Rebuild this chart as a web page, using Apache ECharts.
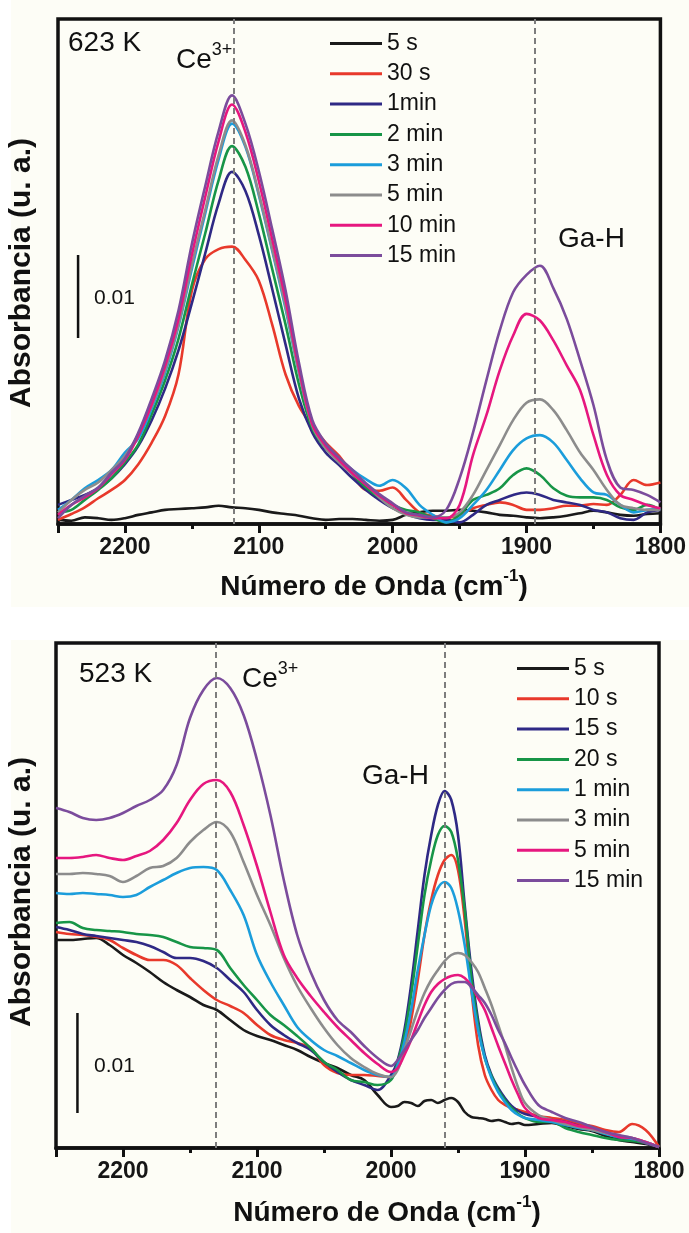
<!DOCTYPE html>
<html><head><meta charset="utf-8">
<script src="https://cdn.jsdelivr.net/npm/echarts@6/dist/echarts.min.js"></script>
<style>html,body{margin:0;padding:0;background:#fff}#c{width:689px;height:1233px}</style>
</head><body><div id="c"></div>
<script>
// ---------- data (absorbance in units of 1e-4, baseline = axis) ----------
const topX = [2250,2240,2230,2220,2210,2200,2190,2180,2170,2160,2150,2140,2130,2120,2110,2100,2090,2080,2070,2060,2050,2040,2030,2020,2010,2000,1990,1980,1970,1960,1950,1940,1930,1920,1910,1900,1890,1880,1870,1860,1850,1840,1830,1820,1810,1800];
const topNames = ['5 s','30 s','1min','2 min','3 min','5 min','10 min','15 min'];
const top5s   = [5,4,8,7,5,7,11,14,17,18,19,20,22,20,19,17,14,12,10,7,5,6,6,5,4,5,11,14,16,16,17,16,14,11,10,8,7,8,10,13,16,14,11,10,12,13];
const top30s  = [5,12,20,31,41,53,72,98,130,180,281,319,331,334,318,293,240,180,142,118,98,82,60,41,40,44,29,14,10,7,11,19,23,26,23,17,17,19,22,22,24,23,35,53,47,50];
const top1min = [23,29,35,43,55,72,94,125,163,209,266,326,386,424,401,348,283,216,151,110,86,71,55,41,29,19,12,7,5,5,2,11,23,29,35,38,35,29,26,23,17,14,7,5,14,17];
const top2min = [14,17,29,41,55,74,96,132,173,223,288,350,414,455,430,374,307,240,168,115,91,77,60,44,32,23,17,14,7,2,11,29,35,43,59,67,59,43,34,32,32,29,20,17,23,17];
const top3min = [17,29,43,53,65,86,103,139,182,238,307,374,439,482,454,396,329,259,182,120,96,79,65,54,46,53,43,23,11,2,7,23,41,65,89,103,107,98,77,55,38,35,23,14,17,19];
const top5min = [14,29,41,50,65,82,108,142,185,240,312,378,444,486,456,398,331,262,182,118,91,74,60,48,32,19,11,8,8,8,14,35,65,95,125,146,150,137,113,86,65,41,23,19,17,17];
const top10min= [11,23,32,43,60,77,106,144,190,247,324,394,461,505,472,413,343,270,187,120,94,77,61,47,34,23,13,10,7,7,23,83,131,185,227,253,245,221,191,161,107,59,35,29,23,19];
const top15min= [7,23,34,44,62,79,110,151,197,257,337,407,473,516,482,425,355,281,194,125,97,80,65,49,36,25,14,11,8,17,55,110,173,233,279,300,311,284,247,197,143,77,44,41,35,26];

const botX = [2250,2240,2230,2220,2210,2200,2190,2180,2170,2160,2150,2140,2130,2120,2110,2100,2090,2080,2070,2060,2050,2040,2030,2020,2010,2000,1995,1990,1985,1980,1975,1970,1965,1960,1955,1950,1945,1940,1935,1930,1925,1920,1915,1910,1905,1900,1890,1880,1870,1860,1850,1840,1830,1820,1810,1800];
const botNames = ['5 s','10 s','15 s','20 s','1 min','3 min','5 min','15 min'];
const bot5s   = [208,208,209,210,203,193,185,176,166,158,151,143,138,128,118,112,108,103,98,91,85,80,73,68,53,41,42,46,45,42,47,48,45,48,50,46,36,31,30,29,27,28,26,24,25,23,24,25,22,19,17,12,8,6,4,1];
const bot10s  = [216,214,213,211,208,200,193,188,188,183,170,158,148,142,135,123,113,108,105,100,83,75,73,73,72,71,80,98,128,168,213,248,273,288,293,278,228,158,103,73,58,48,43,40,38,36,32,30,28,24,22,18,16,24,18,1];
const bot15s  = [221,218,214,212,210,208,206,202,196,190,190,187,180,168,156,138,123,113,105,98,86,76,68,63,58,73,88,118,163,218,273,313,343,357,348,313,243,178,128,93,73,60,50,42,37,34,31,28,26,22,18,16,10,8,5,1];
const bot20s  = [225,226,220,218,217,216,214,213,211,206,201,200,198,180,163,148,133,123,112,100,86,78,68,66,63,68,86,113,153,203,253,288,313,322,316,288,238,170,123,90,72,58,48,40,34,30,26,26,20,16,13,10,8,7,5,1];
const bot1min = [255,254,255,254,253,251,253,261,268,275,280,281,278,258,233,193,166,143,121,108,98,92,85,78,73,71,83,106,138,178,213,243,260,266,260,238,203,158,118,90,70,56,46,38,33,30,28,26,23,20,18,14,11,9,6,1];
const bot3min = [274,274,275,274,272,266,272,280,282,290,306,318,326,316,286,253,223,190,162,140,120,103,90,81,74,71,78,98,118,138,155,168,178,187,193,195,193,186,176,160,143,123,103,80,60,45,33,28,24,21,18,15,12,10,6,1];
const bot5min = [290,290,291,293,290,288,292,297,308,325,348,364,368,356,323,282,236,193,170,152,136,121,108,95,84,76,80,93,108,126,143,156,164,169,172,173,170,162,150,138,120,102,85,68,53,40,30,28,26,22,20,16,11,10,6,1];
const bot15min= [340,336,330,328,330,335,342,348,358,383,430,458,470,460,433,388,333,268,213,176,148,128,116,102,90,82,88,98,108,118,130,140,150,158,164,166,166,161,153,145,133,118,105,90,76,63,43,36,30,26,21,16,13,10,5,1];

const xTicks = [1800,1900,2000,2100,2200];
const topMarkers = [2119, 1894];   // Ce3+, Ga-H
const botMarkers = [2131, 1960];
const topScaleBar = [[2235,224],[2235,324]]; // 0.01
const botScaleBar = [[2234,35],[2234,135]];  // 0.01

const colors = ['#1a1a1a','#e8392b','#2f2985','#179547','#1b9ddb','#8c8c8c','#e6177f','#7b4c9c'];

// ---------- chart ----------
const FONT = '"Liberation Sans", Arial, Helvetica, sans-serif';
const chart = echarts.init(document.getElementById('c'), null, {renderer:'canvas'});

function xAxisCfg(gi){
  return {
    gridIndex: gi, type:'value', inverse:true, min:1800, max:2250, interval:100,
    axisLine:{show:true, onZero:false, lineStyle:{color:'#111', width:3.5}},
    axisTick:{show:true, length:9, lineStyle:{color:'#111', width:3}},
    minorTick:{show:true, splitNumber:2, length:5, lineStyle:{color:'#111', width:3}},
    splitLine:{show:false},
    axisLabel:{margin:12, fontSize:23, fontWeight:'bold', color:'#161616', fontFamily:FONT,
      formatter: v => xTicks.includes(v) ? String(v) : ''}
  };
}
function mkSeries(prefix, names, xs, arrays, cols, gi, markers){
  const s = arrays.map((arr,i)=>({
    name: prefix + names[i], type:'line', xAxisIndex:gi, yAxisIndex:gi,
    data: xs.map((x,j)=>[x, arr[j]]),
    showSymbol:false, symbol:'none', smooth:0.35,
    color: cols[i], itemStyle:{color:cols[i]},
    lineStyle:{color:cols[i], width:2.6}, z: 3
  }));
  s.push({
    name: prefix+'markers', type:'line', xAxisIndex:gi, yAxisIndex:gi, data:[], z:1, silent:true,
    markLine:{silent:true, symbol:'none', label:{show:false}, animation:false,
      lineStyle:{type:[6,4], color:'#7d7d7d', width:2},
      data: markers.map(m=>({xAxis:m}))}
  });
  return s;
}
function scaleBar(gi, data){
  return {name:'scale'+gi, type:'line', xAxisIndex:gi, yAxisIndex:gi, data:data,
    showSymbol:false, symbol:'none', silent:true, lineStyle:{color:'#111', width:2.5}, z:2};
}
function legendCfg(prefix, names, left, top){
  return {data: names.map(n=>prefix+n), orient:'vertical', left:left, top:top, padding:0,
    itemWidth:52, itemHeight:3, itemGap:7.3, icon:'rect', selectedMode:false,
    formatter: n => n.slice(prefix.length),
    textStyle:{fontSize:23, lineHeight:22, color:'#111', fontFamily:FONT}};
}
function txt(x, y, text, size, extra){
  return Object.assign({type:'text', x:x, y:y, silent:true, z:10,
    style:Object.assign({text:text, font:'normal '+size+'px '+FONT, fill:'#111',
      textAlign:'left', textVerticalAlign:'middle'}, extra||{})});
}
function richTxt(x, y, text, rich, baseStyle){
  return {type:'text', x:x, y:y, silent:true, z:10,
    style:Object.assign({text:text, rich:rich, textAlign:'left', textVerticalAlign:'middle', fill:'#111'}, baseStyle)};
}
const ceRich = {b:{fontSize:28, fontFamily:FONT, color:'#111'}, s:{fontSize:18, fontFamily:FONT, color:'#111', padding:[0,0,20,0]}};
const titleRich = {b:{fontSize:28, fontWeight:'bold', fontFamily:FONT, color:'#111'}, s:{fontSize:17, fontWeight:'bold', fontFamily:FONT, color:'#111', padding:[0,0,22,0]}};

const option = {
  animation:false,
  backgroundColor:'#ffffff',
  grid:[
    {left:58, top:19, width:609, height:505, show:true, borderColor:'#111', borderWidth:3.5, backgroundColor:'transparent'},
    {left:56, top:643, width:603, height:505, show:true, borderColor:'#111', borderWidth:3.5, backgroundColor:'transparent'}
  ],
  xAxis:[xAxisCfg(0), xAxisCfg(1)],
  yAxis:[
    {gridIndex:0, type:'value', min:0, max:608, show:false},
    {gridIndex:1, type:'value', min:0, max:505, show:false}
  ],
  legend:[legendCfg('t:', topNames, 330, 32), legendCfg('b:', botNames, 517, 657)],
  series:[].concat(
    mkSeries('t:', topNames, topX, [top5s,top30s,top1min,top2min,top3min,top5min,top10min,top15min], colors, 0, topMarkers),
    mkSeries('b:', botNames, botX, [bot5s,bot10s,bot15s,bot20s,bot1min,bot3min,bot5min,bot15min], colors, 1, botMarkers),
    [scaleBar(0, topScaleBar), scaleBar(1, botScaleBar)]
  ),
  graphic:[
    {type:'rect', shape:{x:11, y:0, width:678, height:607}, style:{fill:'#fdfdf6'}, z:-10, silent:true},
    {type:'rect', shape:{x:11, y:640, width:678, height:593}, style:{fill:'#fdfdf6'}, z:-10, silent:true},
    txt(68, 43, '623 K', 28),
    richTxt(176, 60, '{b|Ce}{s|3+}', ceRich, {}),
    txt(558, 239, 'Ga-H', 28),
    txt(94, 298, '0.01', 21),
    txt(79, 674, '523 K', 28),
    richTxt(242, 679, '{b|Ce}{s|3+}', ceRich, {}),
    txt(362, 776, 'Ga-H', 28),
    txt(94, 1066, '0.01', 21),
    {type:'text', x:22, y:273, rotation:Math.PI/2, silent:true, z:10,
      style:{text:'Absorbancia (u. a.)', font:'bold 30px '+FONT, fill:'#111', textAlign:'center', textVerticalAlign:'middle'}},
    {type:'text', x:22, y:892, rotation:Math.PI/2, silent:true, z:10,
      style:{text:'Absorbancia (u. a.)', font:'bold 30px '+FONT, fill:'#111', textAlign:'center', textVerticalAlign:'middle'}},
    richTxt(374, 587, '{b|Número de Onda (cm}{s|-1}{b|)}', titleRich, {textAlign:'center'}),
    richTxt(387, 1213, '{b|Número de Onda (cm}{s|-1}{b|)}', titleRich, {textAlign:'center'})
  ]
};
chart.setOption(option);
</script>
</body></html>
